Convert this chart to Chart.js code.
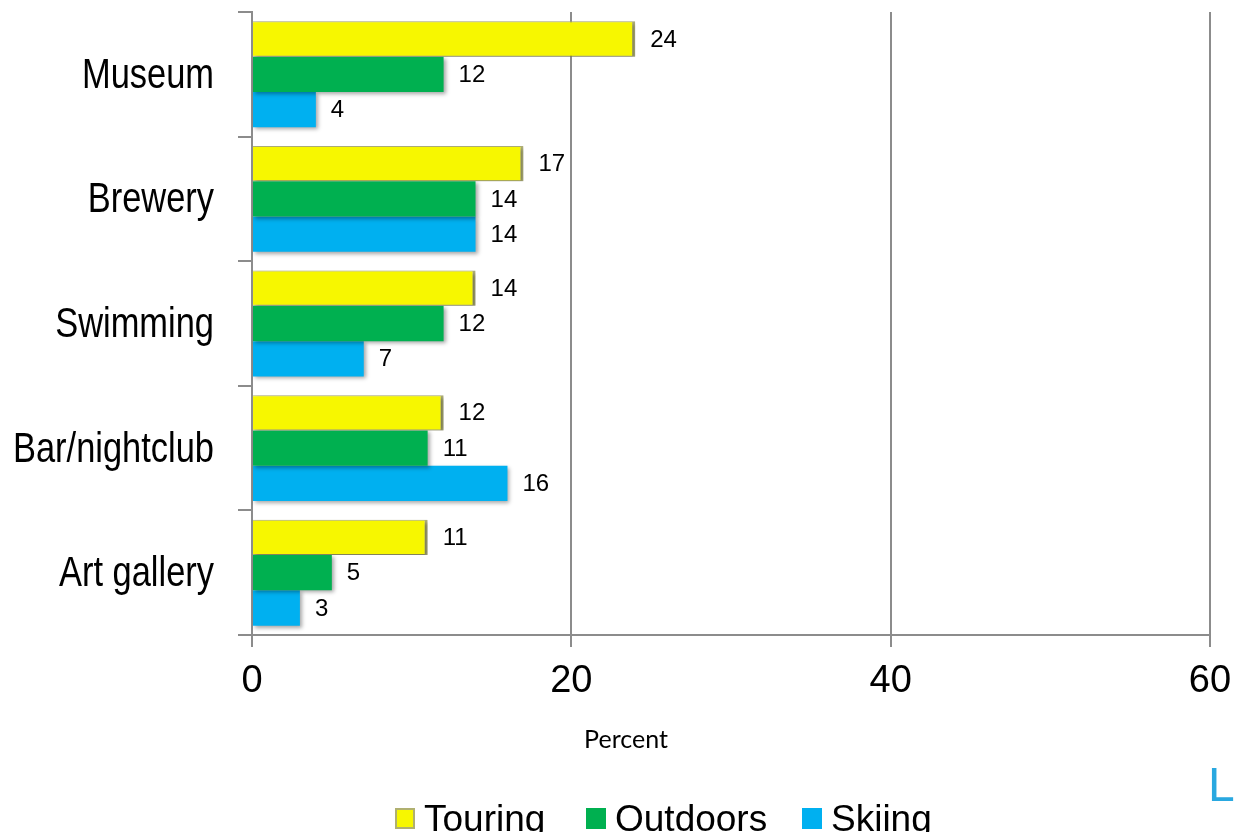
<!DOCTYPE html>
<html>
<head>
<meta charset="utf-8">
<script src="https://cdn.jsdelivr.net/npm/chart.js@4.4.0/dist/chart.umd.min.js"></script>
<style>
  html, body { margin: 0; padding: 0; background: #fff; }
  #wrap { width: 1235px; height: 832px; position: relative; }
</style>
</head>
<body>
<div id="wrap"><canvas id="activityChart"></canvas></div>
<script>
// Activity preference by trip type (percent)
const categories = ['Museum', 'Brewery', 'Swimming', 'Bar/nightclub', 'Art gallery'];
const seriesNames = ['Touring', 'Outdoors', 'Skiing'];
const touring = [24, 17, 14, 12, 11];
const outdoors = [12, 14, 12, 11, 5];
const skiing = [4, 14, 7, 16, 3];
const xTicks = [0, 20, 40, 60];

const colors = ['#f7f700', '#00b050', '#00b0f0'];
const ARIAL = '"Liberation Sans", Arial, sans-serif';

// light drop shadow under the bars
const barShadow = {
    id: 'barShadow',
    beforeDatasetsDraw(chart) {
        const ctx = chart.ctx;
        ctx.save();
        ctx.shadowColor = 'rgba(0, 0, 0, 0.35)';
        ctx.shadowBlur = 4;
        ctx.shadowOffsetX = 2;
        ctx.shadowOffsetY = 2;
    },
    afterDatasetsDraw(chart) {
        chart.ctx.restore();
    }
};

// value labels at the end of each bar
const valueLabels = {
    id: 'valueLabels',
    afterDatasetsDraw(chart) {
        const ctx = chart.ctx;
        ctx.save();
        ctx.font = '24px ' + ARIAL;
        ctx.fillStyle = '#000';
        ctx.textAlign = 'left';
        ctx.textBaseline = 'middle';
        chart.data.datasets.forEach((ds, i) => {
            chart.getDatasetMeta(i).data.forEach((bar, j) => {
                ctx.fillText(String(ds.data[j]), bar.x + 15, bar.y + 1);
            });
        });
        ctx.restore();
    }
};

// category names in a narrow face (no narrow font installed, so squeeze Arial)
const categoryLabels = {
    id: 'categoryLabels',
    afterDraw(chart) {
        const ctx = chart.ctx;
        const yScale = chart.scales.y;
        const right = chart.chartArea.left - 38;
        ctx.save();
        ctx.fillStyle = '#000';
        ctx.font = '42px ' + ARIAL;
        ctx.textAlign = 'right';
        ctx.textBaseline = 'middle';
        categories.forEach((name, i) => {
            const y = yScale.getPixelForValue(i);
            ctx.save();
            ctx.translate(right, y + 2);
            ctx.scale(0.82, 1);
            ctx.fillText(name, 0, 0);
            ctx.restore();
        });
        ctx.restore();
    }
};

// axis caption, legend and the cut-off logo letter
const extras = {
    id: 'extras',
    afterDraw(chart) {
        const ctx = chart.ctx;
        ctx.save();
        ctx.fillStyle = '#000';
        ctx.textBaseline = 'middle';
        ctx.textAlign = 'center';
        ctx.font = '25px Lato, "Open Sans", sans-serif';
        ctx.fillText('Percent', 626, 740);

        ctx.textAlign = 'left';
        ctx.textBaseline = 'alphabetic';
        ctx.font = '37px ' + ARIAL;
        const boxX = [395, 586, 802];
        chart.data.datasets.forEach((ds, i) => {
            const x = boxX[i];
            ctx.fillStyle = ds.backgroundColor;
            ctx.fillRect(x, 808, 20, 21);
            if (i === 0) {
                ctx.strokeStyle = '#b0b070';
                ctx.lineWidth = 2;
                ctx.strokeRect(x + 1, 809, 18, 19);
            }
            ctx.fillStyle = '#000';
            ctx.fillText(ds.label, x + 29, 831);
        });

        ctx.fillStyle = '#29a8e0';
        ctx.font = '48px ' + ARIAL;
        ctx.fillText('L', 1208, 801);
        ctx.restore();
    }
};

const ctx = document.getElementById('activityChart').getContext('2d');
const chart = new Chart(ctx, {
    type: 'bar',
    data: {
        labels: categories,
        datasets: [
            {
                label: seriesNames[0],
                data: touring,
                backgroundColor: colors[0],
                borderColor: '#b2b27a',
                borderWidth: { top: 1, bottom: 1, right: 3, left: 0 },
                borderSkipped: false
            },
            {
                label: seriesNames[1],
                data: outdoors,
                backgroundColor: colors[1],
                borderWidth: 0
            },
            {
                label: seriesNames[2],
                data: skiing,
                backgroundColor: colors[2],
                borderWidth: 0
            }
        ]
    },
    options: {
        indexAxis: 'y',
        responsive: true,
        maintainAspectRatio: false,
        animation: false,
        categoryPercentage: 0.85,
        barPercentage: 1.0,
        layout: {
            padding: { top: 12, right: 25, left: 0, bottom: 0 }
        },
        plugins: {
            legend: { display: false },
            tooltip: { enabled: false }
        },
        scales: {
            x: {
                min: 0,
                max: 60,
                afterBuildTicks(axis) {
                    axis.ticks = xTicks.map(v => ({ value: v }));
                },
                afterFit(axis) {
                    axis.height = 832 - 635;
                    axis.paddingLeft = 0;
                    axis.paddingRight = 0;
                },
                grid: {
                    color: '#8c8c8c',
                    lineWidth: 2,
                    tickLength: 12,
                    drawTicks: true
                },
                border: {
                    display: true,
                    color: '#8c8c8c',
                    width: 2
                },
                ticks: {
                    font: { size: 38, family: ARIAL },
                    color: '#000',
                    padding: 12,
                    maxRotation: 0
                }
            },
            y: {
                afterFit(axis) {
                    axis.width = 252;
                    axis.paddingTop = 0;
                    axis.paddingBottom = 0;
                },
                grid: {
                    display: true,
                    drawOnChartArea: false,
                    color: '#8c8c8c',
                    lineWidth: 2,
                    tickLength: 14,
                    offset: true
                },
                border: {
                    display: true,
                    color: '#8c8c8c',
                    width: 2
                },
                ticks: {
                    display: false
                }
            }
        }
    },
    plugins: [barShadow, valueLabels, categoryLabels, extras]
});
</script>
</body>
</html>
